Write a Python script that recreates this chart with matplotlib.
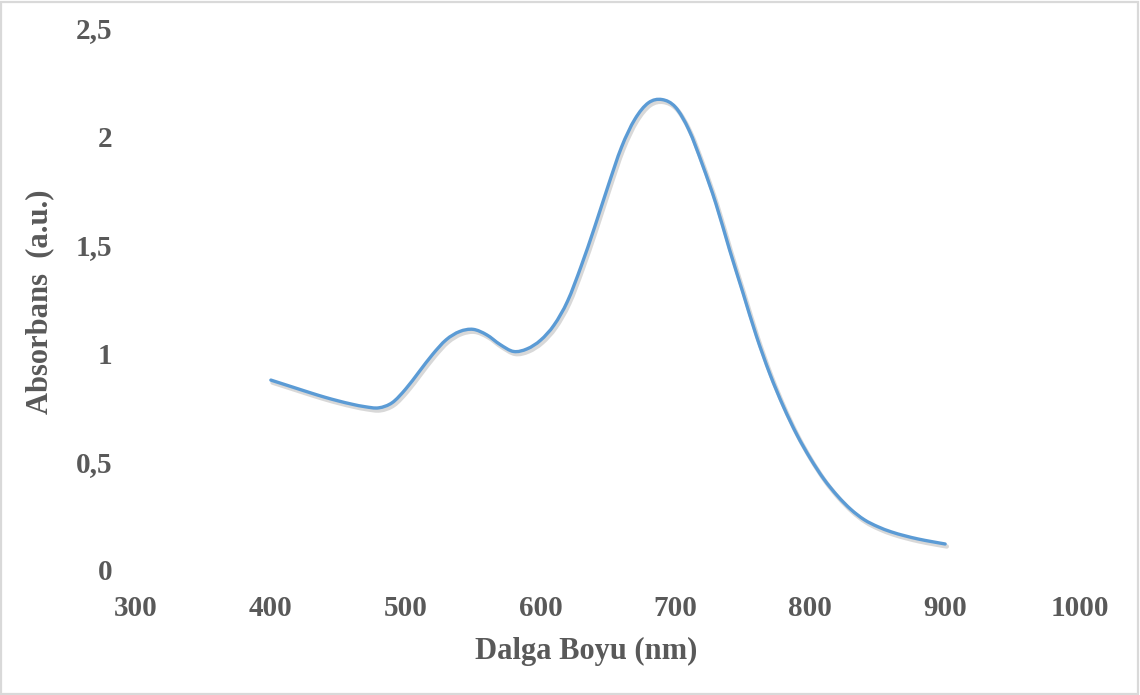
import matplotlib
matplotlib.use("Agg")
import matplotlib.pyplot as plt
import matplotlib.patheffects as pe
from matplotlib.patches import Rectangle, PathPatch
from matplotlib.path import Path

# Absorption spectrum (wavelength in nm, absorbance in a.u.)
wavelength = [400, 410, 420, 430, 440, 450, 460, 470, 480, 490,
              500, 510, 520, 530, 540, 550, 560, 570, 580, 590,
              600, 610, 620, 630, 640, 650, 660, 670, 680, 690,
              700, 710, 720, 730, 740, 750, 760, 770, 780, 790,
              800, 810, 820, 830, 840, 850, 860, 870, 880, 890, 900]
absorbance = [0.876, 0.856, 0.836, 0.816, 0.797, 0.780, 0.765, 0.753, 0.748, 0.772,
              0.835, 0.915, 0.995, 1.062, 1.100, 1.110, 1.085, 1.040, 1.008, 1.020,
              1.060, 1.130, 1.240, 1.400, 1.580, 1.770, 1.950, 2.080, 2.155, 2.170,
              2.135, 2.030, 1.870, 1.690, 1.480, 1.280, 1.080, 0.905, 0.755, 0.625,
              0.515, 0.420, 0.343, 0.280, 0.232, 0.200, 0.176, 0.158, 0.143, 0.131, 0.120]

x_ticks = [300, 400, 500, 600, 700, 800, 900, 1000]
y_ticks = [0, 0.5, 1, 1.5, 2, 2.5]
y_tick_labels = ["0", "0,5", "1", "1,5", "2", "2,5"]


def smooth_path(xs, ys):
    """Cubic Bezier path through every point (Catmull-Rom style smoothing)."""
    n = len(xs)
    verts = [(xs[0], ys[0])]
    codes = [Path.MOVETO]
    for i in range(n - 1):
        x0, y0 = (xs[i - 1], ys[i - 1]) if i > 0 else (xs[i], ys[i])
        x1, y1 = xs[i], ys[i]
        x2, y2 = xs[i + 1], ys[i + 1]
        x3, y3 = (xs[i + 2], ys[i + 2]) if i + 2 < n else (x2, y2)
        c1 = (x1 + (x2 - x0) / 6.0, y1 + (y2 - y0) / 6.0)
        c2 = (x2 - (x3 - x1) / 6.0, y2 - (y3 - y1) / 6.0)
        verts += [c1, c2, (x2, y2)]
        codes += [Path.CURVE4] * 3
    return Path(verts, codes)


W, H = 1140, 695
fig = plt.figure(figsize=(W / 100, H / 100), dpi=100)
fig.patch.set_facecolor("white")

# light frame around the whole chart
fig.add_artist(Rectangle((1 / W, 1 / H), 1 - 3 / W, 1 - 3 / H,
                         transform=fig.transFigure, fill=False,
                         edgecolor="#D9D9D9", linewidth=1.6))

ax = fig.add_axes([136 / W, 1 - 570 / H, (1080 - 136) / W, (570 - 28) / H])
ax.set_xlim(300, 1000)
ax.set_ylim(0, 2.5)

text_color = "#595959"
font = dict(family="Liberation Serif", weight="bold", size=21, color=text_color)

ax.set_xticks(x_ticks)
ax.set_xticklabels([str(t) for t in x_ticks], **font)
ax.set_yticks(y_ticks)
ax.set_yticklabels(y_tick_labels, **font)
ax.tick_params(axis="x", length=0, pad=18)
ax.tick_params(axis="y", length=0, pad=17)
for s in ax.spines.values():
    s.set_visible(False)

curve = PathPatch(smooth_path(wavelength, absorbance), facecolor="none",
                  edgecolor="#5B9BD5", linewidth=2.4, capstyle="round", joinstyle="round",
                  path_effects=[pe.SimpleLineShadow(offset=(1.2, -1.8), shadow_color="#808080",
                                                    alpha=0.3, linewidth=3.2),
                                pe.Normal()])
ax.add_patch(curve)

label_font = dict(family="Liberation Serif", weight="bold", size=22, color=text_color)
fig.text(586 / W, 1 - 651 / H, "Dalga Boyu (nm)", ha="center", va="center", **label_font)
fig.text(40 / W, 1 - 302 / H, "Absorbans  (a.u.)", ha="center", va="center",
         rotation=90, **label_font)

fig.savefig("out.png", dpi=100, facecolor="white")
